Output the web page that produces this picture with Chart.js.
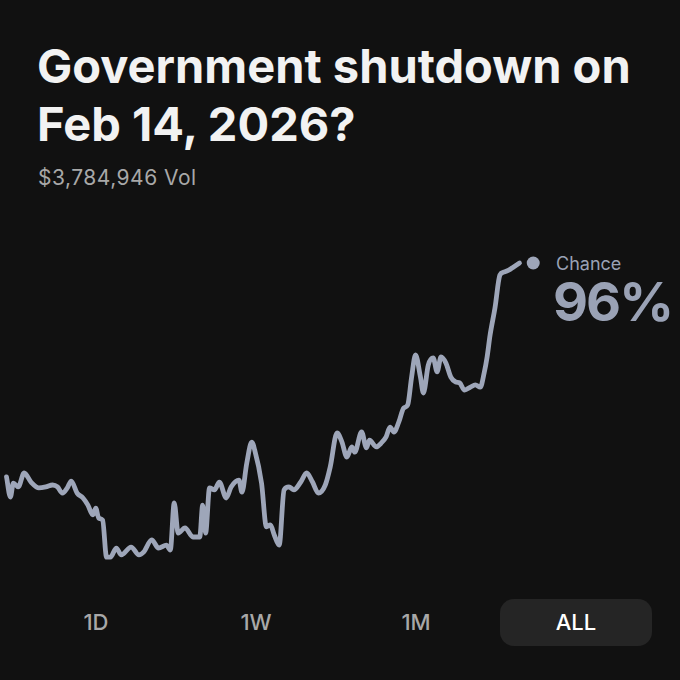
<!DOCTYPE html>
<html>
<head>
<meta charset="utf-8">
<script src="https://cdn.jsdelivr.net/npm/chart.js@4"></script>
<style>
  html, body { margin:0; padding:0; background:#111111; }
  body { width:680px; height:680px; position:relative; overflow:hidden; font-family: Inter, "Noto Sans", sans-serif; }
  #title { position:absolute; left:37px; top:37px; color:#f2f2f2; font-weight:700; font-size:47px; line-height:58px; letter-spacing:0px; }
  #vol { position:absolute; left:38px; top:165px; color:#a8a8a8; font-size:21px; letter-spacing:0.5px; }
  #chance { position:absolute; left:556px; top:253px; color:#9aa2b5; font-size:18px; }
  #pct { position:absolute; left:553px; top:269px; color:#9aa2b5; font-size:54px; font-weight:700; letter-spacing:-2px; }
  #wrap { position:absolute; left:0; top:230px; width:680px; height:365px; }
  .btn { position:absolute; top:599px; height:47px; width:152px; line-height:47px; text-align:center; color:#a8a8a8; font-size:22px; font-weight:500; }
  .btn.active { background:#252525; color:#ffffff; border-radius:14px; }
</style>
</head>
<body>
<div id="title">Government shutdown on<br>Feb 14, 2026?</div>
<div id="vol">$3,784,946 Vol</div>
<div id="chance">Chance</div>
<div id="pct">96%</div>
<div id="wrap"><canvas id="c" width="680" height="365"></canvas></div>
<div id="buttons"></div>
<script>
// Time positions (days from start) and chance values (%)
const times = [0,1,1.75,3,4.5,6.25,8.25,10,11.75,13,14.25,15.5,16.5,18,19.5,20.75,22,22.75,23.5,24.5,
  25.5,26.5,28,29.25,31.75,33.75,35,37,38.75,40.75,41.75,42.75,43.75,45.5,47.5,49.25,50,50.75,51.75,53,
  54.25,56,57.25,59.25,60,61.25,62.5,63.25,65,66.25,67.25,68.25,69.5,70.75,72,73.25,75,76.5,78,79.5,
  81.25,82.5,84.25,85.5,86.75,88,88.75,90.5,91.75,92.5,94.25,95.5,96.75,97.75,98.75,100,101.25,102.25,103.25,104.25,
  105.5,106.25,107.5,108.75,109.75,110.75,112,113.25,114.5,115.5,116.75,118.25,119.5,120.75,121.75,122.5,123.25,124.5,125.75,126.75,
  128,129.25,130.75];
const chance = [30.2,24.0,28.3,27.1,31.4,28.6,26.8,27.1,27.7,27.1,25.2,26.8,28.9,25.2,23.7,21.5,18.5,20.6,17.5,16.9,
  5.5,5.5,8.3,6.2,8.6,6.2,7.1,10.8,8.3,9.2,7.7,22.2,12.9,14.5,11.7,11.7,21.5,12.9,26.8,26.2,
  28.6,23.7,27.1,29.2,25.5,34.5,40.9,38.5,28.3,14.8,15.4,12.3,9.2,26.2,27.1,26.2,28.6,31.4,28.6,25.2,
  27.7,33.2,43.7,40.9,36.3,39.4,37.8,44.0,39.1,41.5,39.4,40.6,42.5,45.5,44.0,47.1,51.4,52.3,60.9,67.7,
  60.9,56.0,64.6,66.8,62.5,67.1,65.2,60.9,59.4,59.1,56.9,57.8,58.5,57.8,62.2,67.1,73.8,82.2,92.3,93.2,
  93.8,94.8,96.0];
const currentTime = 134.25;
const currentChance = 96;
const rangeLabels = ["1D","1W","1M","ALL"];
const activeRange = "ALL";

const lineColor = '#9ea6b9';
const btnWrap = document.getElementById('buttons');
rangeLabels.forEach((l, i) => {
  const d = document.createElement('div');
  d.className = 'btn' + (l === activeRange ? ' active' : '');
  d.style.left = (20 + i * 160) + 'px';
  d.textContent = l;
  btnWrap.appendChild(d);
});

new Chart(document.getElementById('c'), {
  type: 'line',
  data: {
    datasets: [
      {
        data: times.map((t, i) => ({x: t, y: chance[i]})),
        borderColor: lineColor,
        borderWidth: 4.8,
        pointRadius: 0,
        cubicInterpolationMode: 'monotone',
        borderCapStyle: 'round',
        borderJoinStyle: 'round',
        clip: false
      },
      {
        data: [{x: currentTime, y: currentChance}],
        showLine: false,
        pointRadius: 6.5,
        pointBackgroundColor: lineColor,
        pointBorderWidth: 0,
        clip: false
      }
    ]
  },
  options: {
    responsive: false,
    animation: false,
    layout: { padding: { top: 20, bottom: 20, left: 0, right: 0 } },
    plugins: { legend: { display: false }, tooltip: { enabled: false } },
    scales: {
      x: { type: 'linear', min: 0, max: 170, display: false },
      y: { min: 0, max: 100, display: false }
    }
  }
});
</script>
</body>
</html>
